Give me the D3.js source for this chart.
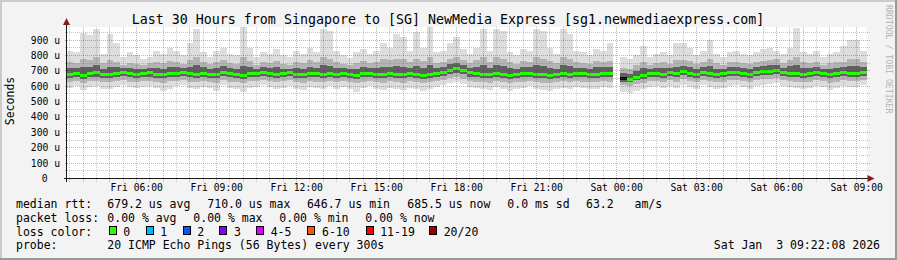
<!DOCTYPE html>
<meta charset="utf-8">
<style>
body { margin: 0; background: #f3f3f3; }
svg text { font-family: "DejaVu Sans Mono", monospace; fill: #000; white-space: pre; }
</style>
<svg width="897" height="260"></svg>
<script src="https://cdn.jsdelivr.net/npm/d3@7/dist/d3.min.js"></script>
<script>

var title = "Last 30 Hours from Singapore to [SG] NewMedia Express [sg1.newmediaexpress.com]";
var endTime = new Date(2026, 0, 3, 9, 22, 8);
var spanHours = 30;
var binMinutes = 15;

// rtt values in microseconds, one per 15 minute bin (null = no data)
var median = [
  682,688,676,684,690,680,678,686,692,684,
  680,686,690,682,678,684,688,690,684,680,
  686,682,678,690,684,680,676,684,688,692,
  686,680,684,690,682,678,686,684,680,688,
  682,686,680,676,684,688,680,678,684,682,
  678,684,680,676,682,686,692,708,716,706,
  690,684,680,678,686,682,676,680,684,688,
  682,678,676,680,684,682,686,684,680,682,
  686,684,null,652,650,662,676,684,688,682,
  690,684,696,688,680,692,686,680,684,690,
  694,686,682,690,696,700,704,692,688,684,
  680,684,690,686,678,684,690,688,686,692];
var smokeMax = [
  830,820,945,930,975,810,940,880,790,820,
  800,780,790,830,810,850,830,800,880,975,
  820,790,830,850,810,800,985,850,790,820,
  810,840,800,790,830,810,850,820,975,960,
  830,800,785,820,840,810,830,880,850,940,
  920,830,950,850,985,820,830,880,920,840,
  810,850,975,830,975,960,820,800,840,830,
  975,960,850,810,975,940,830,820,800,840,
  830,880,null,790,780,800,860,790,810,820,
  800,880,880,850,800,830,900,810,790,820,
  830,810,800,820,840,850,830,810,850,980,
  820,810,830,790,810,820,860,900,900,830];
var smokeHi = [
  760,750,780,770,790,750,770,760,740,750,
  745,740,750,760,750,765,760,745,770,790,
  760,745,755,770,750,745,790,765,740,755,
  750,765,745,740,760,750,770,755,790,780,
  760,745,740,750,765,750,760,775,770,780,
  775,755,780,765,790,750,760,780,790,770,
  750,770,790,760,790,780,755,745,765,760,
  790,780,765,750,790,775,755,750,745,765,
  760,765,null,720,715,735,760,740,750,755,
  745,770,770,765,745,760,775,750,740,755,
  760,750,745,755,765,770,775,750,770,790,
  755,750,760,740,750,755,760,775,775,760];
var smokeLo = [
  630,635,620,632,636,628,625,634,638,630,
  628,634,636,630,624,632,636,638,630,626,
  634,630,624,638,630,626,620,632,636,640,
  634,628,632,638,628,624,634,630,626,636,
  628,634,626,620,630,636,628,624,632,628,
  624,632,626,620,628,634,640,652,660,650,
  636,630,626,624,634,628,620,626,630,636,
  628,624,620,626,632,628,634,630,626,628,
  634,630,null,606,602,614,624,632,636,628,
  638,630,644,636,626,640,632,626,630,638,
  642,632,628,638,644,648,652,638,634,630,
  626,630,638,632,624,630,638,636,632,640];
var smokeMin = [
  590,600,575,595,600,585,580,598,605,592,
  588,596,600,590,572,585,600,605,590,580,
  596,588,570,605,590,582,560,588,598,606,
  596,585,590,604,584,575,596,588,580,600,
  585,595,580,565,588,600,584,575,590,585,
  575,590,580,568,585,595,605,620,628,615,
  598,588,580,575,596,584,568,580,588,600,
  585,575,570,580,590,585,596,588,580,585,
  596,588,null,560,555,572,585,592,600,588,
  604,590,610,598,582,606,594,582,590,604,
  608,594,585,602,610,615,620,600,595,588,
  580,588,602,594,578,588,604,598,592,606];
// loss per bin: 0 = no loss, null = unknown (drawn black)
var loss = median.map(function(d, i) { return i === 83 ? null : 0; });

var yTicks = [0, 100, 200, 300, 400, 500, 600, 700, 800, 900];

var lossLegend = ["0", "1", "2", "3", "4-5", "6-10", "11-19", "20/20"];
var lossColors = ["#26ff00", "#00b8ff", "#0059ff", "#7e00ff", "#dd00ff", "#ff5500", "#ff0000", "#a10000"];

var rttLegend = ["679.2 us avg", "710.0 us max", "646.7 us min", "685.5 us now", "0.0 ms sd", "63.2   am/s"];
var lossStats = ["0.00 % avg", "0.00 % max", "0.00 % min", "0.00 % now"];
var probeText = "20 ICMP Echo Pings (56 Bytes) every 300s";
var stampText = "Sat Jan  3 09:22:08 2026";

var svg = d3.select("svg"),
    W = 897, H = 260,
    plot = {left: 66.5, right: 866.5, top: 27, bottom: 178.5};

var startTime = new Date(+endTime - spanHours * 3600e3);

var x = d3.scaleTime().domain([startTime, endTime]).range([plot.left, plot.right]);
var y = d3.scaleLinear().domain([0, 985]).range([plot.bottom, plot.top]);

// frame shading
svg.append("rect").attr("width", W).attr("height", H).attr("fill", "#f3f3f3");
svg.append("path").attr("d", "M0,0H" + W + "V2H2V" + H + "H0Z").attr("fill", "#cbcbcb");
svg.append("path").attr("d", "M" + W + "," + H + "H0V" + (H - 2) + "H" + (W - 2) + "V0H" + W + "Z").attr("fill", "#999");

svg.append("rect")
    .attr("x", plot.left).attr("y", plot.top)
    .attr("width", plot.right - plot.left).attr("height", plot.bottom - plot.top)
    .attr("fill", "#fff");

var bins = median.map(function(m, i) {
  var t0 = new Date(+startTime + i * binMinutes * 60e3),
      t1 = new Date(+startTime + (i + 1) * binMinutes * 60e3);
  return {t0: t0, t1: t1, med: m, max: smokeMax[i], hi: smokeHi[i], lo: smokeLo[i], min: smokeMin[i], loss: loss[i]};
}).filter(function(d) { return d.med != null; });

var smoke = svg.append("g").attr("shape-rendering", "crispEdges");

function band(lo, hi, color) {
  smoke.append("g").selectAll("rect")
    .data(bins)
    .enter().append("rect")
      .attr("x", function(d) { return x(d.t0); })
      .attr("width", function(d) { return x(d.t1) - x(d.t0); })
      .attr("y", function(d) { return y(hi(d)); })
      .attr("height", function(d) { return y(lo(d)) - y(hi(d)); })
      .attr("fill", color);
}

band(function(d) { return d.min; }, function(d) { return d.max; }, "#dddddd");
band(function(d) { return d.lo; }, function(d) { return d.hi; }, "#b4b4b4");
band(function(d) { return (d.lo + d.med) / 2; }, function(d) { return (d.hi + d.med) / 2; }, "#606060");

// median
smoke.append("g").selectAll("rect")
  .data(bins)
  .enter().append("rect")
    .attr("x", function(d) { return x(d.t0); })
    .attr("width", function(d) { return x(d.t1) - x(d.t0); })
    .attr("y", function(d) { return Math.round(y(d.med)) - 1; })
    .attr("height", 3)
    .attr("fill", function(d) { return d.loss == null ? "#000" : lossColors[0]; });

// grid
var grid = svg.append("g").attr("shape-rendering", "crispEdges");
var px = function(v) { return Math.round(v - 0.5) + 0.5; };

d3.range(50, 985, 50).forEach(function(v) {
  grid.append("line")
      .attr("x1", plot.left - 2).attr("x2", plot.right + 3)
      .attr("y1", px(y(v))).attr("y2", px(y(v)))
      .attr("stroke", v % 100 ? "rgba(128,128,128,0.45)" : "rgba(255,0,0,0.4)")
      .attr("stroke-dasharray", "1,1");
});

d3.timeMinute.every(30).range(startTime, endTime).forEach(function(t) {
  var major = t.getMinutes() === 0;
  grid.append("line")
      .attr("x1", px(x(t))).attr("x2", px(x(t)))
      .attr("y1", plot.top).attr("y2", plot.bottom + 3)
      .attr("stroke", major ? "rgba(255,0,0,0.4)" : "rgba(128,128,128,0.45)")
      .attr("stroke-dasharray", "1,1");
});

// axes
var axisColor = "#1a1a1a", arrowColor = "#8b1a1a";
svg.append("line")
    .attr("x1", plot.left - 3).attr("x2", plot.right + 2)
    .attr("y1", px(plot.bottom)).attr("y2", px(plot.bottom))
    .attr("stroke", axisColor).attr("shape-rendering", "crispEdges");
svg.append("line")
    .attr("x1", px(plot.left)).attr("x2", px(plot.left))
    .attr("y1", plot.bottom + 3).attr("y2", plot.top - 4)
    .attr("stroke", axisColor).attr("shape-rendering", "crispEdges");
svg.append("path")
    .attr("d", "M" + (plot.right + 1) + "," + (px(plot.bottom) - 3.5) + "l7,3.5l-7,3.5z")
    .attr("fill", arrowColor);
svg.append("path")
    .attr("d", "M" + (px(plot.left) - 3.5) + "," + (plot.top - 2) + "l3.5,-7l3.5,7z")
    .attr("fill", arrowColor);

// y labels
svg.append("g").selectAll("text")
  .data(yTicks)
  .enter().append("text")
    .attr("x", function(d) { return d ? 60 : 47.5; })
    .attr("y", function(d) { return y(d); })
    .attr("dy", "0.36em")
    .attr("text-anchor", "end")
    .attr("font-size", "9.7px")
    .text(function(d) { return d ? d + " u" : "0"; });

// x labels
svg.append("g").selectAll("text")
  .data(d3.timeHour.every(3).range(startTime, endTime))
  .enter().append("text")
    .attr("x", function(d) { return x(d); })
    .attr("y", 191)
    .attr("text-anchor", "middle")
    .attr("font-size", "9.7px")
    .text(d3.timeFormat("%a %H:%M"));

svg.append("text")
    .attr("transform", "translate(14,101) rotate(-90)")
    .attr("text-anchor", "middle")
    .attr("font-size", "11.5px")
    .text("Seconds");

svg.append("text")
    .attr("x", 448).attr("y", 23.5)
    .attr("text-anchor", "middle")
    .attr("font-size", "13.3px")
    .text(title);

svg.append("text")
    .attr("transform", "translate(886,5) rotate(90)")
    .attr("font-size", "8.2px")
    .style("fill", "#b4b4b4")
    .text("RRDTOOL / TOBI OETIKER");

// legend
var legend = svg.append("g").attr("font-size", "11.5px");
var rows = [208, 221.7, 235.5, 249];

legend.append("text").attr("x", 16).attr("y", rows[0]).text("median rtt:");
var rttX = [107.3, 207.3, 306.9, 407.3, 507.3, 586];
rttLegend.forEach(function(s, i) {
  legend.append("text").attr("x", rttX[i]).attr("y", rows[0]).text(s);
});

legend.append("text").attr("x", 16).attr("y", rows[1]).text("packet loss:");
lossStats.forEach(function(s, i) {
  legend.append("text").attr("x", 107.3 + i * 86).attr("y", rows[1]).text(s);
});

legend.append("text").attr("x", 16).attr("y", rows[2]).text("loss color:");
var boxX = [108.5, 145.5, 182.5, 219.3, 256, 307.3, 365.5, 429];
lossLegend.forEach(function(s, i) {
  legend.append("rect")
      .attr("x", boxX[i] + 0.5).attr("y", 226.5)
      .attr("width", 7).attr("height", 8)
      .attr("fill", lossColors[i])
      .attr("stroke", "#000").attr("shape-rendering", "crispEdges");
  legend.append("text").attr("x", boxX[i] + 14.7).attr("y", rows[2]).text(s);
});

legend.append("text").attr("x", 16).attr("y", rows[3]).text("probe:");
legend.append("text").attr("x", 107.3).attr("y", rows[3]).text(probeText);
legend.append("text").attr("x", 880).attr("y", rows[3]).attr("text-anchor", "end").text(stampText);

</script>
